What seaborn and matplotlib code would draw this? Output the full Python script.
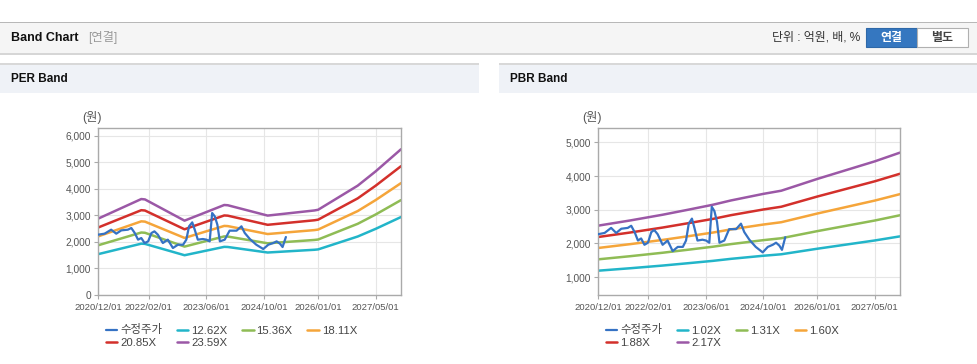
import pandas as pd
import matplotlib.pyplot as plt
import matplotlib.dates as mdates
from matplotlib.patches import Rectangle
from matplotlib.ticker import FuncFormatter
import seaborn as sns

# 수정주가 (same series on both charts)
price_dates = ['2020-12-01', '2021-01-26', '2021-03-22', '2021-05-04', '2021-06-16', '2021-08-10',
               '2021-09-08', '2021-10-07', '2021-11-04', '2021-12-01', '2021-12-29', '2022-01-28',
               '2022-02-25', '2022-03-22', '2022-04-20', '2022-06-01', '2022-07-13', '2022-08-25',
               '2022-10-07', '2022-11-19', '2022-12-16', '2023-01-08', '2023-02-04', '2023-02-25',
               '2023-03-23', '2023-05-04', '2023-06-04', '2023-07-01', '2023-07-22', '2023-08-13',
               '2023-09-04', '2023-09-25', '2023-11-05', '2023-12-16', '2024-02-13', '2024-03-25',
               '2024-04-22', '2024-06-04', '2024-07-28', '2024-09-25', '2024-11-07', '2024-12-19',
               '2025-01-16', '2025-02-13', '2025-03-07', '2025-04-04']
price = [2272, 2310, 2460, 2310, 2435, 2460,
         2523, 2335, 2084, 2146, 1958, 2020,
         2335, 2397, 2272, 1958, 2084, 1770,
         1895, 1895, 2084, 2586, 2736, 2460,
         2084, 2109, 2084, 2020, 3088, 2962,
         2648, 2020, 2084, 2423, 2423, 2586,
         2335, 2109, 1895, 1732, 1895, 1958,
         2020, 1933, 1807, 2184]

# PER band: EPS
per_dates = ['2020-12-01', '2021-12-01', '2022-01-01', '2022-12-01', '2023-11-01', '2023-12-01',
             '2024-11-01', '2025-12-01', '2026-01-01', '2026-06-01', '2026-12-01', '2027-05-01',
             '2027-12-01']
eps = [121.8, 153.2, 152.6, 118.7, 143.7, 143.3,
       126.8, 135.0, 136.1, 153.5, 174.6, 197.4,
       232.7]
per_multiples = [12.62, 15.36, 18.11, 20.85, 23.59]

# PBR band: BPS
pbr_dates = ['2020-12-01', '2021-09-01', '2022-06-01', '2023-01-01', '2023-08-01', '2024-01-01',
             '2024-10-01', '2025-03-01', '2026-01-01', '2027-05-01', '2027-12-01']
bps = [1164, 1236, 1314, 1382, 1451, 1510,
       1600, 1643, 1805, 2045, 2165]
pbr_multiples = [1.02, 1.31, 1.60, 1.88, 2.17]

x_ticks = ['2020-12-01', '2022-02-01', '2023-06-01', '2024-10-01', '2026-01-01', '2027-05-01']

price_color = '#3572c4'
band_colors = ['#22b5c9', '#8fbc55', '#f5a53a', '#d3302b', '#9b58a6']

sns.set_theme(style="whitegrid")
plt.rcParams['font.family'] = ['Liberation Sans', 'Noto Sans CJK KR']

W, H = 978, 364
fig = plt.figure(figsize=(W / 100, H / 100), dpi=100)
fig.patch.set_facecolor('white')


def box(x0, y0, x1, y1, **kw):
    fig.add_artist(Rectangle((x0 / W, 1 - y1 / H), (x1 - x0) / W, (y1 - y0) / H,
                             transform=fig.transFigure, **kw))


def txt(x, y, s, **kw):
    fig.text(x / W, 1 - y / H, s, va='center', **kw)


# header bar
box(0, 22, W, 53, fc='#f5f5f5', ec='none')
box(0, 22, W, 23, fc='#b8b8b8', ec='none')
box(0, 53, W, 55, fc='#d6d6d6', ec='none')
txt(11, 38, 'Band Chart', fontsize=9, fontweight='bold', color='#111111')
txt(88, 38, '[연결]', fontsize=8.8, color='#999999')
txt(860, 38, '단위 : 억원, 배, %', fontsize=8.6, color='#333333', ha='right')
box(866, 28, 917, 47, fc='#3577c0', ec='#2e68a8', lw=0.8)
txt(891.5, 37.5, '연결', fontsize=8.6, fontweight='bold', color='white', ha='center')
box(917, 28, 968, 47, fc='white', ec='#b0b0b0', lw=0.8)
txt(942.5, 37.5, '별도', fontsize=8.6, fontweight='bold', color='#444444', ha='center')

# panel headers
for x0, x1, title in [(0, 479, 'PER Band'), (499, W, 'PBR Band')]:
    box(x0, 64, x1, 93, fc='#eff2f7', ec='none')
    box(x0, 63, x1, 65, fc='#d8d8d8', ec='none')
    txt(x0 + 11, 79.5, title, fontsize=8.5, fontweight='bold', color='#111111')


def band_chart(rect, dates, base, multiples, yticks, ylim, unit_x, legend_x):
    ax = fig.add_axes([rect[0] / W, 1 - rect[3] / H, (rect[2] - rect[0]) / W, (rect[3] - rect[1]) / H])
    d = pd.to_datetime(dates)
    for m, c in zip(multiples, band_colors):
        sns.lineplot(x=d, y=[b * m for b in base], ax=ax, color=c, lw=1.8, label=f'{m:.2f}X')
    sns.lineplot(x=pd.to_datetime(price_dates), y=price, ax=ax, color=price_color,
                 lw=1.6, label='수정주가', zorder=5)

    ax.set_xlim(pd.Timestamp('2020-12-01'), pd.Timestamp('2027-12-01'))
    ax.set_ylim(*ylim)
    ax.set_xticks(pd.to_datetime(x_ticks))
    ax.xaxis.set_major_formatter(mdates.DateFormatter('%Y/%m/%d'))
    ax.set_yticks(yticks)
    ax.yaxis.set_major_formatter(FuncFormatter(lambda v, p: f'{v:,.0f}'))
    ax.set_xlabel('')
    ax.set_ylabel('')
    ax.set_facecolor('white')
    ax.grid(True, color='#e6e6e6', lw=0.8)
    for s in ax.spines.values():
        s.set_color('#aaaaaa')
        s.set_linewidth(1)
    ax.tick_params(axis='x', direction='out', length=3, width=0.8, color='#aaaaaa',
                   labelsize=6.8, labelcolor='#555555', pad=2.5, bottom=True)
    ax.tick_params(axis='y', direction='out', length=3, width=0.8, color='#aaaaaa',
                   labelsize=7.3, labelcolor='#555555', pad=2, left=True)

    fig.text(unit_x / W, 1 - 118 / H, '(원)', fontsize=8.8, color='#555555', va='center')

    handles, labels = ax.get_legend_handles_labels()
    # row-wise order: price, 1st, 2nd, 3rd / 4th, 5th
    order = [5, 3, 0, 4, 1, 2]
    ax.legend([handles[i] for i in order], [labels[i] for i in order],
              loc='upper left', bbox_to_anchor=(legend_x / W, 1 - 324.5 / H),
              bbox_transform=fig.transFigure, ncol=4, frameon=False, fontsize=8.2,
              handlelength=1.0, handletextpad=0.25, columnspacing=1.3,
              borderaxespad=0, borderpad=0, labelspacing=0.2, labelcolor='#444444')
    return ax


band_chart((98, 128, 401, 295), per_dates, eps, per_multiples,
           list(range(0, 7000, 1000)), (0, 6290), 82, 106)
band_chart((598, 128, 900, 295), pbr_dates, bps, pbr_multiples,
           list(range(1000, 6000, 1000)), (465, 5430), 582, 606)

fig.savefig('out.png', dpi=100, facecolor='white')
